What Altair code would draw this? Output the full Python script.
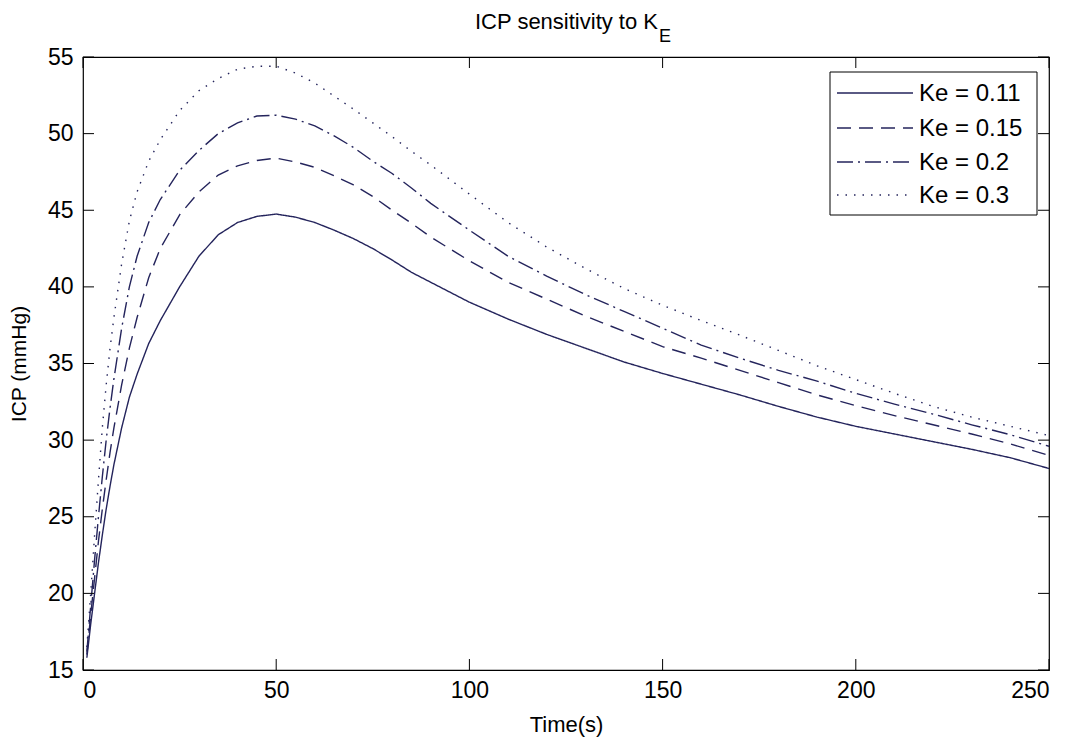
import altair as alt
import pandas as pd

# ---- data ----
times = [1, 2, 3, 4, 5, 6, 7, 8, 10, 12, 14, 17, 20, 25, 30, 35, 40, 45, 50, 55, 60, 65,
         70, 75, 80, 85, 90, 100, 110, 120, 130, 140, 150, 160, 170, 180, 190, 200, 210,
         220, 230, 240, 250]

ke_011 = [15.8, 18.0, 20.0, 22.0, 23.8, 25.5, 27.0, 28.4, 30.8, 32.8, 34.3, 36.3, 37.8, 40.0,
          42.0, 43.4, 44.2, 44.6, 44.75, 44.55, 44.2, 43.7, 43.15, 42.5, 41.75, 40.95, 40.3,
          39.0, 37.9, 36.9, 36.0, 35.1, 34.35, 33.65, 32.95, 32.2, 31.5, 30.9, 30.4, 29.9,
          29.4, 28.85, 28.15]
ke_015 = [16.0, 18.6, 21.0, 23.4, 25.5, 27.4, 29.2, 30.8, 33.6, 36.0, 38.0, 40.6, 42.5, 44.7,
          46.2, 47.3, 47.9, 48.25, 48.4, 48.15, 47.8, 47.25, 46.65, 45.9, 45.0, 44.15, 43.25,
          41.7, 40.3, 39.2, 38.1, 37.1, 36.1, 35.35, 34.55, 33.75, 32.95, 32.25, 31.6, 31.0,
          30.4, 29.75, 29.0]
ke_02 = [16.2, 19.2, 22.2, 25.0, 27.6, 30.0, 32.1, 34.0, 37.3, 40.0, 42.0, 44.2, 45.7, 47.6,
         48.9, 50.0, 50.7, 51.15, 51.2, 50.95, 50.5, 49.85, 49.1, 48.2, 47.4, 46.45, 45.45,
         43.7, 42.0, 40.7, 39.5, 38.4, 37.3, 36.2, 35.35, 34.55, 33.85, 33.05, 32.35, 31.7,
         31.0, 30.35, 29.6]
ke_03 = [16.5, 20.0, 23.8, 27.4, 30.8, 33.6, 36.0, 38.0, 41.5, 44.3, 46.2, 48.2, 49.6, 51.5,
         52.8, 53.6, 54.2, 54.4, 54.4, 53.95, 53.3, 52.45, 51.6, 50.7, 49.8, 48.85, 47.95,
         46.05, 44.2, 42.6, 41.2, 39.9, 38.8, 37.8, 36.85, 35.85, 34.85, 33.95, 33.05, 32.2,
         31.5, 30.9, 30.3]

series_names = ["Ke = 0.11", "Ke = 0.15", "Ke = 0.2", "Ke = 0.3"]
series_values = [ke_011, ke_015, ke_02, ke_03]

x_ticks = [0, 50, 100, 150, 200, 250]
y_ticks = [15, 20, 25, 30, 35, 40, 45, 50, 55]

# ---- styles ----
dashes = [[1, 0], [14, 8], [16, 5, 2, 5], [1.5, 7]]
LINE_COLOR = "#24245c"
FONT = "Liberation Sans, Arial, sans-serif"
W, H = 966, 613

rows = []
for name, vals in zip(series_names, series_values):
    for t, v in zip(times, vals):
        rows.append({"t": t, "icp": v, "series": name})
df = pd.DataFrame(rows)

xscale = alt.Scale(domain=[0, 250], nice=False, zero=False)
yscale = alt.Scale(domain=[15, 55], nice=False, zero=False)

lines = alt.Chart(df).mark_line(strokeWidth=1.4, color=LINE_COLOR).encode(
    x=alt.X("t:Q", scale=xscale,
            axis=alt.Axis(values=x_ticks, ticks=False, domain=False, grid=False,
                          labelFontSize=23, labelPadding=9, labelColor="black",
                          labelFont=FONT, title="Time(s)", titleFontSize=22,
                          titleFont=FONT, titleFontWeight="normal", titleColor="black",
                          titleBaseline="alphabetic", titleY=61)),
    y=alt.Y("icp:Q", scale=yscale,
            axis=alt.Axis(values=y_ticks, ticks=False, domain=False, grid=False,
                          labelFontSize=23, labelPadding=10, labelColor="black",
                          labelFont=FONT, title="ICP (mmHg)", titleFontSize=21,
                          titleFont=FONT, titleFontWeight="normal", titleColor="black",
                          titleBaseline="alphabetic", titleX=-58)),
    strokeDash=alt.StrokeDash("series:N",
                              scale=alt.Scale(domain=series_names, range=dashes),
                              legend=None),
    order=alt.Order("t:Q"),
)

xt = pd.DataFrame({"t": x_ticks})
yt = pd.DataFrame({"icp": y_ticks})
TL = 11
tick_b = alt.Chart(xt).mark_rule(color="black", strokeWidth=1).encode(
    x="t:Q", y=alt.value(H), y2=alt.value(H - TL))
tick_t = alt.Chart(xt).mark_rule(color="black", strokeWidth=1).encode(
    x="t:Q", y=alt.value(0), y2=alt.value(TL))
tick_l = alt.Chart(yt).mark_rule(color="black", strokeWidth=1).encode(
    y="icp:Q", x=alt.value(0), x2=alt.value(TL))
tick_r = alt.Chart(yt).mark_rule(color="black", strokeWidth=1).encode(
    y="icp:Q", x=alt.value(W), x2=alt.value(W - TL))

one = pd.DataFrame({"a": [0]})
# legend box
LX0, LX1, LY0, LY1 = 747, 954, 15, 158
legend_box = alt.Chart(one).mark_rect(fill="white", stroke="black", strokeWidth=1).encode(
    x=alt.value(LX0), x2=alt.value(LX1), y=alt.value(LY0), y2=alt.value(LY1))

legend_layers = []
row_y = [36, 71, 105, 138]
for name, dash, yy in zip(series_names, dashes, row_y):
    legend_layers.append(
        alt.Chart(one).mark_rule(color=LINE_COLOR, strokeWidth=1.4, strokeDash=dash).encode(
            x=alt.value(754), x2=alt.value(830), y=alt.value(yy)))
    legend_layers.append(
        alt.Chart(one).mark_text(text=name, align="left", baseline="middle", fontSize=24,
                                 font=FONT, color="black").encode(
            x=alt.value(836), y=alt.value(yy + 1)))

title_main = alt.Chart(one).mark_text(text="ICP sensitivity to K", align="right",
                                      baseline="middle", fontSize=22, font=FONT,
                                      color="black").encode(
    x=alt.value(575), y=alt.value(-35))
title_sub = alt.Chart(one).mark_text(text="E", align="left", baseline="middle",
                                     fontSize=18, font=FONT, color="black").encode(
    x=alt.value(576), y=alt.value(-20))

chart = alt.layer(lines, tick_b, tick_t, tick_l, tick_r, legend_box, *legend_layers,
                  title_main, title_sub).properties(
    width=W, height=H,
    autosize=alt.AutoSizeParams(type="none"),
    padding={"left": 83, "top": 57, "right": 24, "bottom": 68},
    background="white",
).configure_view(stroke="black", strokeWidth=1.2)

chart.save("out.html", embed_options={"renderer": "svg", "actions": False})
